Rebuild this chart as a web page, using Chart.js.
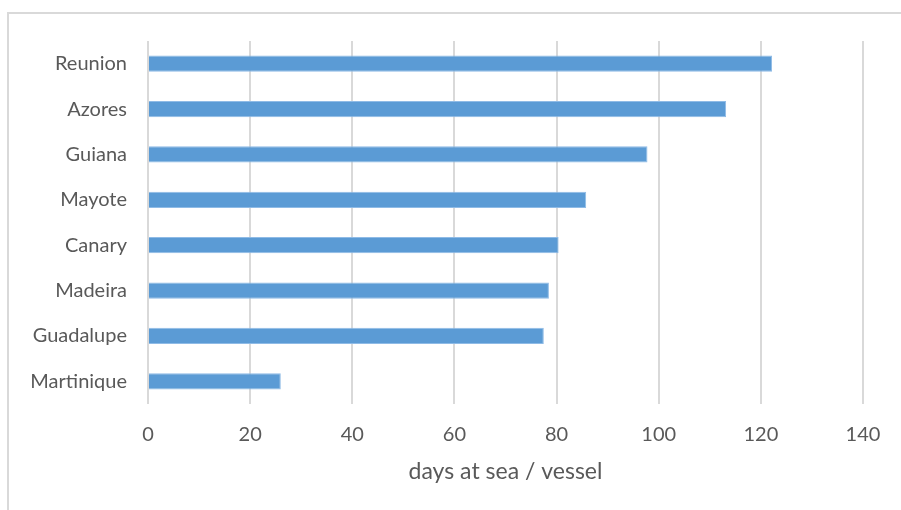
<!DOCTYPE html>
<html>
<head>
<meta charset="utf-8">
<script src="https://cdn.jsdelivr.net/npm/chart.js@4/dist/chart.umd.min.js"></script>
<style>
  body { margin: 0; background: #fff; }
  #wrap { position: relative; width: 901px; height: 510px; }
  #marco {
    position: absolute; left: 7px; top: 12px; width: 900px; height: 500px;
    border-top: 2px solid #d9d9d9; border-left: 2px solid #d9d9d9;
  }
  #grafico { position: absolute; left: 0; top: 0; }
</style>
</head>
<body>
<div id="wrap">
  <div id="marco"></div>
  <canvas id="grafico" width="901" height="510"></canvas>
</div>
<script>
// Datos: dias en el mar por buque
const regiones = ["Reunion", "Azores", "Guiana", "Mayote", "Canary", "Madeira", "Guadalupe", "Martinique"];
const dias = [122.2, 113.2, 97.8, 85.8, 80.4, 78.5, 77.5, 26.0];
const ejeMin = 0;
const ejeMax = 140;
const paso = 20;
const tituloEje = "days at sea / vessel";

const gris = "#595959";
const fuente = { family: "Lato, 'Liberation Sans', sans-serif", size: 20 };
const fuenteTitulo = { family: "Lato, 'Liberation Sans', sans-serif", size: 23 };

const data = {
    labels: regiones,
    datasets: [{
        data: dias,
        backgroundColor: "#5b9bd5",
        borderColor: "#8fbbe6",
        borderWidth: 1,
        barPercentage: 0.36,
        categoryPercentage: 1
    }]
};

const config = {
    type: "bar",
    data,
    options: {
        indexAxis: "y",
        responsive: false,
        animation: false,
        events: [],
        layout: { padding: { left: 0, top: 41, right: 38, bottom: 0 } },
        plugins: {
            legend: { display: false },
            tooltip: { enabled: false }
        },
        scales: {
            x: {
                min: ejeMin,
                max: ejeMax,
                afterFit: (scale) => { scale.height = 106; },
                border: { display: false },
                grid: { color: "#d9d9d9", lineWidth: 2, drawTicks: false },
                ticks: { stepSize: paso, color: gris, font: fuente, padding: 19 },
                title: { display: true, text: tituloEje, color: gris, font: fuenteTitulo, padding: { top: 0, bottom: 25 } }
            },
            y: {
                afterFit: (scale) => { scale.width = 148; },
                border: { display: false },
                grid: { display: false, drawTicks: false },
                ticks: { color: gris, font: fuente, padding: 21 }
            }
        }
    }
};

new Chart(document.getElementById("grafico"), config);
</script>
</body>
</html>
